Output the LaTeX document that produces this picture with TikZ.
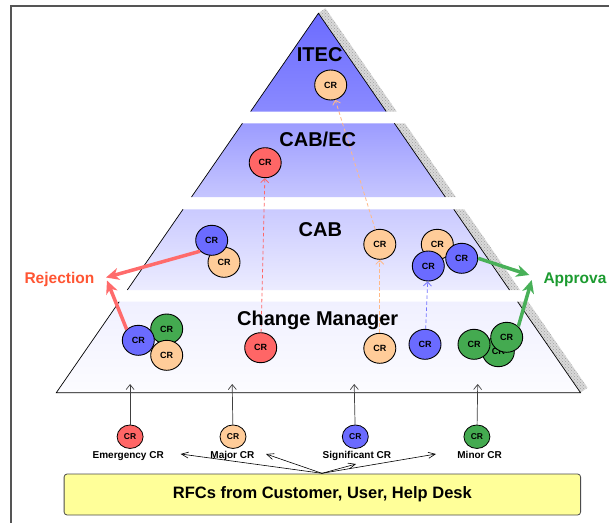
\documentclass[tikz,border=0pt]{standalone}
\usepackage{fontspec}
\setmainfont{Liberation Sans}
\usetikzlibrary{shapes.geometric,arrows.meta,patterns}
\definecolor{crblue}{RGB}{107,107,255}
\definecolor{crorange}{RGB}{255,204,153}
\definecolor{crred}{RGB}{255,102,102}
\definecolor{crgreen}{RGB}{68,170,80}
\definecolor{rejline}{RGB}{255,107,107}
\definecolor{rejtext}{RGB}{255,85,51}
\definecolor{appline}{RGB}{72,176,88}
\definecolor{apptext}{RGB}{28,155,48}
\definecolor{dashorange}{RGB}{255,185,135}
\definecolor{dashblue}{RGB}{115,115,255}
\definecolor{rfcfill}{RGB}{255,255,153}
\definecolor{framegray}{RGB}{85,85,85}
\definecolor{itecTop}{RGB}{108,108,255}
\definecolor{itecBot}{RGB}{138,138,255}
\definecolor{cabecTop}{RGB}{156,156,255}
\definecolor{cabecBot}{RGB}{198,198,255}
\definecolor{cabTop}{RGB}{202,202,255}
\definecolor{cabBot}{RGB}{236,236,255}
\definecolor{cmTop}{RGB}{240,240,255}
\definecolor{cmBot}{RGB}{252,252,255}
\begin{document}
\begin{tikzpicture}[x=1pt,y=-1pt,
  cr/.style={ellipse,draw=black,line width=0.9pt,minimum width=32pt,minimum height=30pt,inner sep=0pt,font=\bfseries\fontsize{9}{10}\selectfont},
  crs/.style={ellipse,draw=black,line width=0.8pt,minimum width=26pt,minimum height=23.5pt,inner sep=0pt,font=\bfseries\fontsize{8.5}{9}\selectfont},
  bcr/.style={cr,fill=crblue},
  ocr/.style={cr,fill=crorange},
  rcr/.style={cr,fill=crred},
  gcr/.style={cr,fill=crgreen},
  layertitle/.style={font=\bfseries\fontsize{20}{24}\selectfont,inner sep=0pt,anchor=base},
  sidetitle/.style={font=\bfseries\fontsize{15.5}{18}\selectfont,inner sep=0pt},
  smalllabel/.style={font=\bfseries\fontsize{10}{12}\selectfont,inner sep=0pt,anchor=base},
  flow/.style={dash pattern=on 3.5pt off 2.5pt,line width=0.8pt,-{Straight Barb[length=4pt,width=8pt]}},
  bigarrow/.style={line width=3.5pt,-{Stealth[length=13pt,width=12pt,inset=4pt]}},
  thinarrow/.style={line width=0.6pt,-{Straight Barb[length=7pt,width=6pt]}},
  vertarrow/.style={line width=0.7pt,draw=black!75,-{Straight Barb[length=5pt,width=8pt]}},
  shadowstrip/.style={fill=gray!30,postaction={pattern=crosshatch dots,pattern color=gray!75}},
  edge/.style={line width=0.7pt,draw=black}
]
\useasboundingbox (0,0) rectangle (609,522);
\clip (0,0) rectangle (609,522);
\fill[white] (0,0) rectangle (609,522);
% frame
\draw[line width=1.6pt,draw=framegray] (10.7,540) -- (10.7,6) -- (640,6);
% shadows
\path[shadowstrip] (318.4,13.3) -- (325.4,8.3) -- (396.7,111.5) -- (386.2,111.5) -- cycle;
\path[shadowstrip] (394.4,123.3) -- (404.9,123.3) -- (455.8,197) -- (445.3,197) -- cycle;
\path[shadowstrip] (453.8,209.3) -- (464.3,209.3) -- (520,290) -- (509.5,290) -- cycle;
\path[shadowstrip] (517.6,301.7) -- (528.1,301.7) -- (587.5,387.7) -- (580.5,392.7) -- cycle;
% layers
\shade[top color=itecTop,bottom color=itecBot] (318.4,13.3) -- (386.2,111.5) -- (250.6,111.5) -- cycle;
\draw[edge] (250.6,111.5) -- (318.4,13.3) -- (386.2,111.5);
\shade[top color=cabecTop,bottom color=cabecBot] (242.4,123.3) -- (394.4,123.3) -- (445.3,197) -- (191.5,197) -- cycle;
\draw[edge] (191.5,197) -- (242.4,123.3);
\draw[edge] (394.4,123.3) -- (445.3,197);
\shade[top color=cabTop,bottom color=cabBot] (183.0,209.3) -- (453.8,209.3) -- (509.5,290) -- (127.3,290) -- cycle;
\draw[edge] (127.3,290) -- (183.0,209.3);
\draw[edge] (453.8,209.3) -- (509.5,290);
\shade[top color=cmTop,bottom color=cmBot] (119.2,301.7) -- (517.6,301.7) -- (580.5,392.7) -- (56.3,392.7) -- cycle;
\draw[edge] (119.2,301.7) -- (56.3,392.7) -- (580.5,392.7) -- (517.6,301.7);
% CR nodes
\node[ocr] (itecA) at (330.7,85) {CR};
\node[rcr] (cabecA) at (265.2,162.7) {CR};
\node[ocr] (cabO1) at (224,262.3) {CR};
\node[bcr] (cabB1) at (211.7,240.3) {CR};
\node[ocr] (cabO2) at (379.8,244.3) {CR};
\node[ocr] (cabO3) at (437.3,244.3) {CR};
\node[bcr] (cabB2) at (428.3,266) {CR};
\node[bcr] (cabB3) at (461.7,258.3) {CR};
\node[gcr] (cmG1) at (166.7,329) {CR};
\node[ocr] (cmO1) at (166.7,355.3) {CR};
\node[bcr] (cmB1) at (138.3,340.3) {CR};
\node[rcr] (cmR) at (260.7,347.7) {CR};
\node[ocr] (cmO2) at (379.8,348.3) {CR};
\node[bcr] (cmB2) at (425,344.3) {CR};
\node[gcr] (cmG3) at (498.3,351.7) {CR};
\node[gcr] (cmG2) at (474,344.3) {CR};
\node[gcr] (cmG4) at (506.7,337.3) {CR};
% dashed flows
\draw[flow,draw=crred] (cmR) -- (cabecA);
\draw[flow,draw=dashorange] (cmO2) -- (cabO2);
\draw[flow,draw=dashorange] (cabO2) -- (itecA);
\draw[flow,draw=dashblue] (cmB2) -- (cabB2);
% layer titles
\node[layertitle] (tItec) at (319.7,61) {ITEC};
\node[layertitle] (tCabec) at (317.7,146.7) {CAB/EC};
\node[layertitle] (tCab) at (320.4,236.7) {CAB};
\node[layertitle] (tCm) at (317.7,325) {Change Manager};
% rejection / approval
\coordinate (rejT1) at (106,277.5);
\coordinate (rejT2) at (107,280.5);
\coordinate (appT1) at (529.3,275);
\coordinate (appT2) at (531.7,280);
\draw[bigarrow,draw=rejline,fill=rejline] (cabB1.south west) -- (rejT1);
\draw[bigarrow,draw=rejline,fill=rejline] (cmB1.north west) -- (rejT2);
\draw[bigarrow,draw=appline,fill=appline] (cabB3.east) -- (appT1);
\draw[bigarrow,draw=appline,fill=appline] (cmG4.north east) -- (appT2);
\node[sidetitle,anchor=base east,text=rejtext] (rej) at (94.5,283.3) {Rejection};
\node[sidetitle,anchor=base west,text=apptext] (app) at (543.3,283.3) {Approva};
% bottom CR types
\node[crs,fill=crred] (sE) at (130.1,436.7) {CR};
\node[crs,fill=crorange] (sM) at (233,436.7) {CR};
\node[crs,fill=crblue] (sS) at (355.3,436.7) {CR};
\node[crs,fill=crgreen] (sN) at (476.9,436.7) {CR};
\node[smalllabel] (lE) at (128.2,458.3) {Emergency CR};
\node[smalllabel] (lM) at (232.4,458.3) {Major CR};
\node[smalllabel] (lS) at (356.9,458.3) {Significant CR};
\node[smalllabel] (lN) at (479.6,458.3) {Minor CR};
\coordinate (vE) at (130.1,384);
\coordinate (vM) at (232.2,384);
\coordinate (vS) at (354.2,384);
\coordinate (vN) at (477.7,384);
\draw[vertarrow] (sE) -- (vE);
\draw[vertarrow] (sM) -- (vM);
\draw[vertarrow] (sS) -- (vS);
\draw[vertarrow] (sN) -- (vN);
% RFC box
\node[draw=black!70,line width=0.8pt,fill=rfcfill,rounded corners=3pt,minimum width=516.5pt,minimum height=41pt,inner sep=0pt,font=\bfseries\fontsize{16.5}{20}\selectfont] (rfc) at (322.35,494.5) {RFCs from Customer, User, Help Desk};
\coordinate (rfcTop) at (322,473.3);
\coordinate (tE) at (180.7,454);
\coordinate (tM) at (266,454);
\coordinate (tS) at (356,464);
\coordinate (tN) at (436,454);
\draw[thinarrow] (rfcTop) -- (tE);
\draw[thinarrow] (rfcTop) -- (tM);
\draw[thinarrow] (rfcTop) -- (tS);
\draw[thinarrow] (rfcTop) -- (tN);
\end{tikzpicture}
\end{document}
